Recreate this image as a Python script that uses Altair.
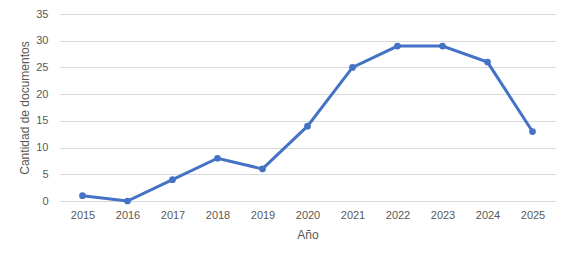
import altair as alt
import pandas as pd

years = ["2015", "2016", "2017", "2018", "2019", "2020", "2021", "2022", "2023", "2024", "2025"]
counts = [1, 0, 4, 8, 6, 14, 25, 29, 29, 26, 13]

df = pd.DataFrame({"Año": years, "Cantidad": counts})

base = alt.Chart(df).encode(
    x=alt.X("Año:O", sort=years,
            scale=alt.Scale(type="point", padding=0.5),
            axis=alt.Axis(title="Año", labelAngle=0, grid=False, domain=False, ticks=False,
                          labelPadding=8, titlePadding=9)),
    y=alt.Y("Cantidad:Q",
            scale=alt.Scale(domain=[0, 35]),
            axis=alt.Axis(title="Cantidad de documentos", values=[0, 5, 10, 15, 20, 25, 30, 35],
                          domain=False, ticks=False, labelPadding=12, titlePadding=4,
                          gridColor="#d9d9d9", gridWidth=1)),
)

line = base.mark_line(color="#4472C4", strokeWidth=3)
pts = base.mark_point(color="#4472C4", filled=True, opacity=1, size=45)

chart = (line + pts).properties(
    width=495, height=187,
    padding={"left": 52, "top": 6, "right": 6, "bottom": 52},
    autosize=alt.AutoSizeParams(type="none"),
).configure_view(stroke=None).configure_axis(
    labelFont="Liberation Sans", titleFont="Liberation Sans",
    labelFontSize=11, titleFontSize=12,
    labelColor="#595959", titleColor="#595959", titleFontWeight="normal",
)

chart.save("out.html", embed_options={"renderer": "svg", "actions": False})
